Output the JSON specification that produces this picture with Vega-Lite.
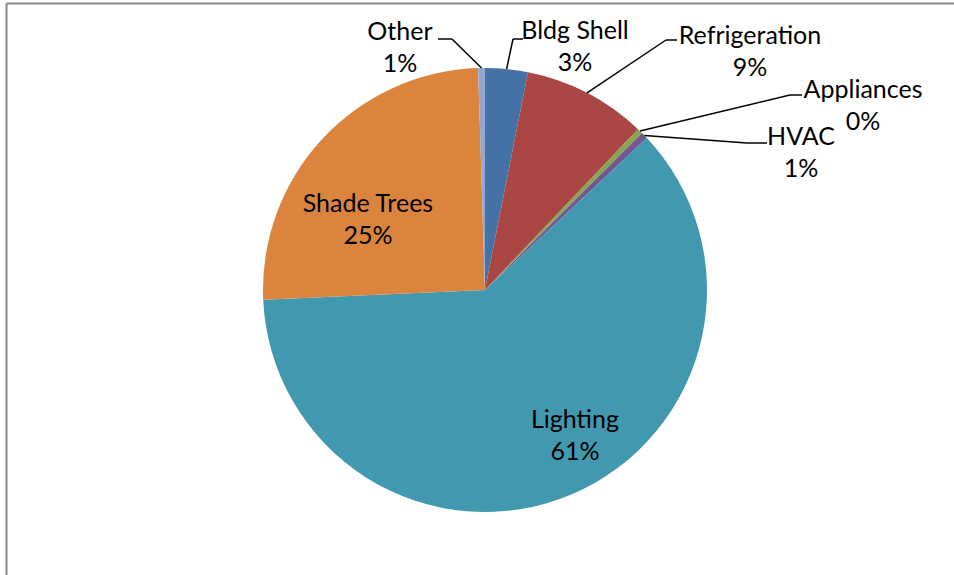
{
  "$schema": "https://vega.github.io/schema/vega-lite/v6.json",
  "width": 938,
  "height": 570,
  "autosize": {"type": "none"},
  "padding": {"left": 16, "top": 5, "right": 0, "bottom": 0},
  "background": "white",
  "config": {
    "view": {"stroke": null},
    "text": {"font": "Lato", "fontSize": 25, "color": "#000000", "lineBreak": "\n", "lineHeight": 32, "align": "center", "baseline": "middle"},
    "axis": {"labels": false, "ticks": false, "grid": false, "title": null, "domainColor": "#878787", "domainWidth": 2}
  },
  "data": {
    "values": [
      {"idx": 1, "category": "Bldg Shell", "share": 3.1, "pct": "3%"},
      {"idx": 2, "category": "Refrigeration", "share": 9.0, "pct": "9%"},
      {"idx": 3, "category": "Appliances", "share": 0.4, "pct": "0%"},
      {"idx": 4, "category": "HVAC", "share": 0.5, "pct": "1%"},
      {"idx": 5, "category": "Lighting", "share": 61.3, "pct": "61%"},
      {"idx": 6, "category": "Shade Trees", "share": 25.2, "pct": "25%"},
      {"idx": 7, "category": "Other", "share": 0.5, "pct": "1%"}
    ]
  },
  "transform": [
    {"window": [{"op": "sum", "field": "share", "as": "end"}], "sort": [{"field": "idx"}], "frame": [null, 0]},
    {"calculate": "datum.end - datum.share", "as": "start"},
    {"calculate": "(datum.start + datum.end) / 2", "as": "mid"},
    {"calculate": "datum.category + '\\n' + datum.pct", "as": "label"},
    {"calculate": "222 * sin(datum.mid * PI / 50)", "as": "sx"},
    {"calculate": "222 * cos(datum.mid * PI / 50)", "as": "sy"},
    {"calculate": "[28, 181, 305, 262, 0, 0, -33][datum.idx - 1]", "as": "ex"},
    {"calculate": "[251, 250, 195, 147, 0, 0, 251][datum.idx - 1]", "as": "ey"},
    {"calculate": "[38, 192, 317, 282, 0, 0, -47][datum.idx - 1]", "as": "ex2"}
  ],
  "layer": [
    {
      "mark": {"type": "arc", "outerRadius": 222},
      "encoding": {
        "theta": {"field": "start", "type": "quantitative", "scale": {"domain": [0, 100], "zero": true, "nice": false}},
        "theta2": {"field": "end"},
        "color": {
          "field": "category",
          "type": "nominal",
          "scale": {
            "domain": ["Bldg Shell", "Refrigeration", "Appliances", "HVAC", "Lighting", "Shade Trees", "Other"],
            "range": ["#4572A7", "#AA4643", "#89A54E", "#71588F", "#4198AF", "#DB843D", "#93A9CF"]
          },
          "legend": null
        }
      }
    },
    {
      "transform": [{"filter": "datum.idx <= 4 || datum.idx == 7"}],
      "mark": {"type": "rule", "color": "#000000", "strokeWidth": 1.5},
      "encoding": {
        "x": {"field": "sx", "type": "quantitative", "scale": {"domain": [-479, 469], "range": [-10, 938], "nice": false, "zero": false}, "axis": {"orient": "top", "offset": 2}},
        "y": {"field": "sy", "type": "quantitative", "scale": {"domain": [-285, 287], "range": [570, -2], "nice": false, "zero": false}, "axis": {"orient": "left", "offset": 10}},
        "x2": {"field": "ex"},
        "y2": {"field": "ey"}
      }
    },
    {
      "transform": [{"filter": "datum.idx <= 4 || datum.idx == 7"}],
      "mark": {"type": "rule", "color": "#000000", "strokeWidth": 1.5},
      "encoding": {
        "x": {"field": "ex", "type": "quantitative"},
        "y": {"field": "ey", "type": "quantitative"},
        "x2": {"field": "ex2"}
      }
    },
    {
      "transform": [{"filter": "datum.category == 'Bldg Shell'"}],
      "mark": {"type": "text", "radius": 251.6, "dx": 65.5, "dy": -8.6},
      "encoding": {"theta": {"field": "mid", "type": "quantitative"}, "text": {"field": "label"}}
    },
    {
      "transform": [{"filter": "datum.category == 'Refrigeration'"}],
      "mark": {"type": "text", "radius": 334.1, "dx": 111.4, "dy": 42.7},
      "encoding": {"theta": {"field": "mid", "type": "quantitative"}, "text": {"field": "label"}}
    },
    {
      "transform": [{"filter": "datum.category == 'Appliances'"}],
      "mark": {"type": "text", "radius": 396.4, "dx": 101.3, "dy": 83.8},
      "encoding": {"theta": {"field": "mid", "type": "quantitative"}, "text": {"field": "label"}}
    },
    {
      "transform": [{"filter": "datum.category == 'HVAC'"}],
      "mark": {"type": "text", "radius": 320.8, "dx": 85.6, "dy": 70.3},
      "encoding": {"theta": {"field": "mid", "type": "quantitative"}, "text": {"field": "label"}}
    },
    {
      "transform": [{"filter": "datum.category == 'Lighting'"}],
      "mark": {"type": "text", "radius": 169.5, "dx": 24.1, "dy": -26.2},
      "encoding": {"theta": {"field": "mid", "type": "quantitative"}, "text": {"field": "label"}}
    },
    {
      "transform": [{"filter": "datum.category == 'Shade Trees'"}],
      "mark": {"type": "text", "radius": 134.1, "dx": -18.7, "dy": 5.2},
      "encoding": {"theta": {"field": "mid", "type": "quantitative"}, "text": {"field": "label"}}
    },
    {
      "transform": [{"filter": "datum.category == 'Other'"}],
      "mark": {"type": "text", "radius": 244.3, "dx": -81.2, "dy": -13.7},
      "encoding": {"theta": {"field": "mid", "type": "quantitative"}, "text": {"field": "label"}}
    }
  ]
}
